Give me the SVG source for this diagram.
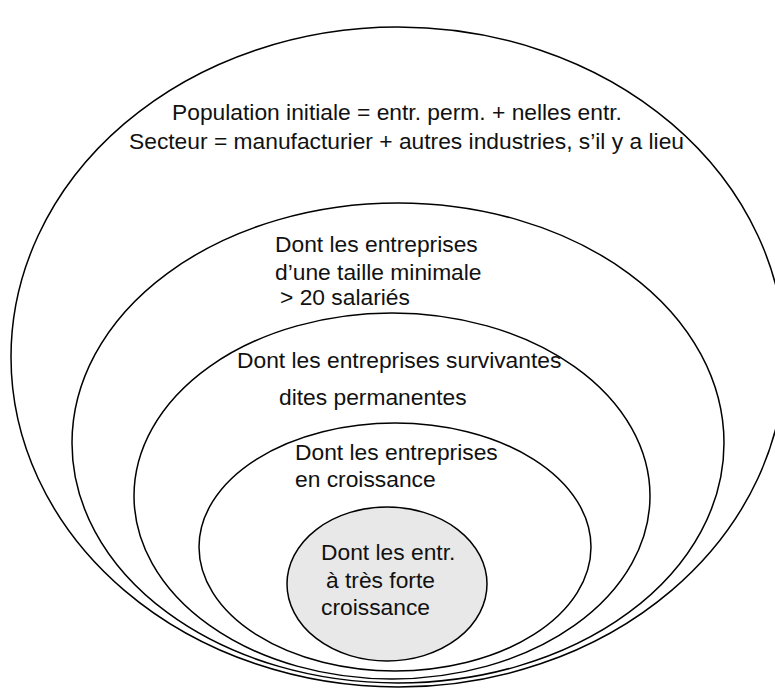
<svg xmlns="http://www.w3.org/2000/svg" width="775" height="689" viewBox="0 0 775 689">
  <style>
    .ring { fill: none; stroke: #000; stroke-width: 1.5; }
    .core { fill: #e8e8e8; stroke: #000; stroke-width: 1.5; }
    text { font-family: "Liberation Sans", Arial, sans-serif; font-size: 22.8px; fill: #111; }
  </style>
  <rect width="775" height="689" fill="#fff"/>

  <!-- Nested populations, outermost first -->
  <g id="population">
    <ellipse class="ring" cx="398" cy="357" rx="387" ry="330"/>
    <text x="172" y="120">Population initiale = entr. perm. + nelles entr.</text>
    <text x="129" y="149">Secteur = manufacturier + autres industries, s’il y a lieu</text>
  </g>

  <g id="taille-minimale">
    <ellipse class="ring" cx="398" cy="443" rx="326" ry="240"/>
    <text x="275" y="252">Dont les entreprises</text>
    <text x="275" y="280">d’une taille minimale</text>
    <text x="280" y="305">&gt; 20 salariés</text>
  </g>

  <g id="permanentes">
    <ellipse class="ring" cx="392" cy="496" rx="258" ry="183"/>
    <text x="237" y="368">Dont les entreprises survivantes</text>
    <text x="279" y="405">dites permanentes</text>
  </g>

  <g id="croissance">
    <ellipse class="ring" cx="395" cy="547" rx="196" ry="124"/>
    <text x="295" y="460">Dont les entreprises</text>
    <text x="295" y="487">en croissance</text>
  </g>

  <g id="forte-croissance">
    <ellipse class="core" cx="387" cy="584" rx="100" ry="77"/>
    <text x="321" y="560">Dont les entr.</text>
    <text x="326" y="588">à très forte</text>
    <text x="321" y="615">croissance</text>
  </g>

  <g id="connectors"/>
</svg>
